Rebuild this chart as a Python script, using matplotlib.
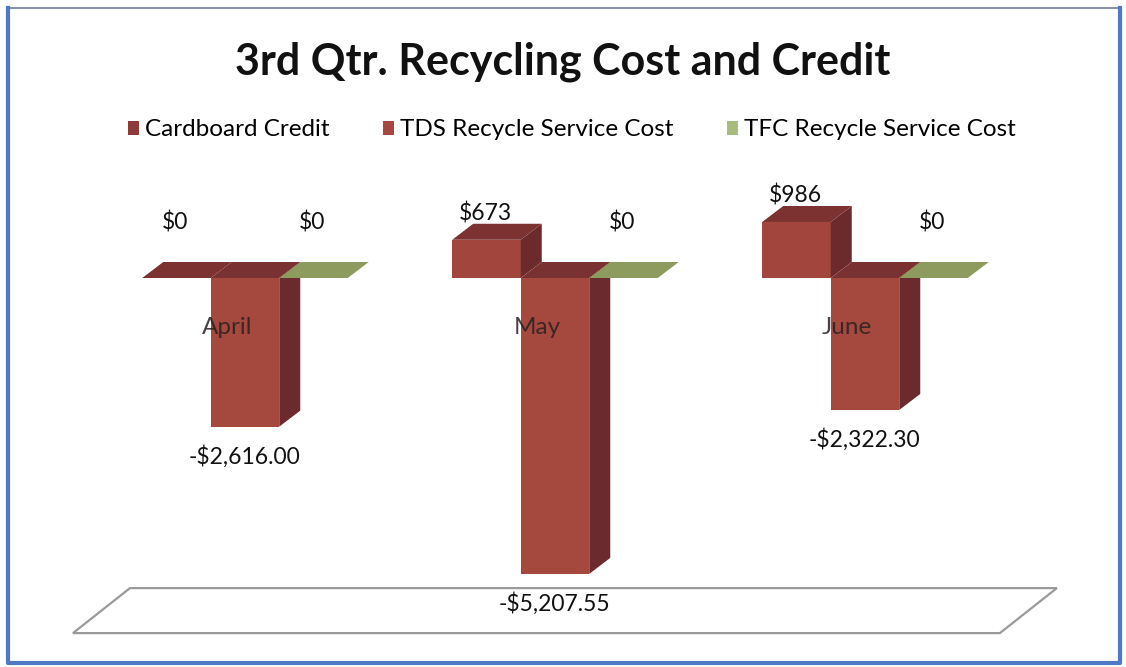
import matplotlib
matplotlib.use('Agg')
import matplotlib.pyplot as plt
from matplotlib.patches import Polygon, Rectangle, Patch
from matplotlib.lines import Line2D

# ---------------- data ----------------
categories = ['April', 'May', 'June']
series_names = ['Cardboard Credit', 'TDS Recycle Service Cost', 'TFC Recycle Service Cost']
cardboard_credit = [0, 673, 986]
tds_cost = [-2616.00, -5207.55, -2322.30]
tfc_cost = [0, 0, 0]
title = '3rd Qtr. Recycling Cost and Credit'

series_values = [cardboard_credit, tds_cost, tfc_cost]

# ---------------- styles ----------------
FONT = ['Lato', 'DejaVu Sans']
plt.rcParams['font.family'] = FONT
front_colors = ['#A2463D', '#A5493F', '#A3AE74']
top_colors = ['#7B3231', '#7A3131', '#8E9B5E']
side_colors = ['#6C2A2D', '#6B2A2D', '#7D8A50']
legend_colors = ['#8D3A3B', '#A8453D', '#A9BB7E']

W, H, DPI = 1126, 667, 100
fig = plt.figure(figsize=(W / DPI, H / DPI), dpi=DPI)
ax = fig.add_axes([0, 0, 1, 1])
ax.axis('off')

# axis scale: group pitch and value per pixel
pitch_px = 310.0
val_per_px = 17.6
x0_px = 245.0        # first group centre (pixels from left)
zero_px = 278.0      # zero line (pixels from top)
ax.set_xlim(-x0_px / pitch_px, (W - x0_px) / pitch_px)
ax.set_ylim(-(H - zero_px) * val_per_px, zero_px * val_per_px)

bar_w = 0.221
ddx = 21 / pitch_px
ddy = 16 * val_per_px

# ---------------- floor ----------------
floor_val = -6250
fdx, fdy = 57 / pitch_px, 45 * val_per_px
fl, fr = -0.555, len(categories) - 1 + 0.435
ax.add_patch(Polygon([(fl, floor_val), (fr, floor_val), (fr + fdx, floor_val + fdy),
                      (fl + fdx, floor_val + fdy)], closed=True, facecolor='white',
                     edgecolor='#9a9a9a', lw=1.6, zorder=1))


def fmt(v):
    if v < 0:
        return f"-${abs(v):,.2f}"
    return f"${v:,.0f}"


# ---------------- bars ----------------
for i, cat in enumerate(categories):
    for j, vals in enumerate(series_values):
        v = vals[i]
        xa = i + (j - 1.5) * bar_w
        xb = xa + bar_w
        lo, hi = min(0, v), max(0, v)
        z = 2 + i * 10 + j
        if v != 0:
            ax.add_patch(Rectangle((xa, lo), bar_w, hi - lo, facecolor=front_colors[j],
                                   edgecolor='none', zorder=z))
            ax.add_patch(Polygon([(xb, lo), (xb + ddx, lo + ddy), (xb + ddx, hi + ddy), (xb, hi)],
                                 closed=True, facecolor=side_colors[j], edgecolor='none', zorder=z))
        ax.add_patch(Polygon([(xa, hi), (xb, hi), (xb + ddx, hi + ddy), (xa + ddx, hi + ddy)],
                             closed=True, facecolor=top_colors[j], edgecolor='none', zorder=z))
        # value labels
        xc = (xa + xb) / 2
        if v < 0:
            off = 30
        elif v > 0:
            off = -26
        else:
            off = -56
        ax.annotate(fmt(v), xy=(xc, v), xytext=(-1, -off), textcoords='offset pixels',
                    ha='center', va='center', fontsize=16.5, color='#111111', zorder=100)
    # category label
    ax.annotate(cat, xy=(i, 0), xytext=(-18, -49), textcoords='offset pixels',
                ha='center', va='center', fontsize=17.5, color='#2a2020', alpha=0.85, zorder=99)

# ---------------- title & legend ----------------
fig.text(0.5, 1 - 62 / H, title, ha='center', va='center', fontsize=31,
         fontweight='bold', color='#111111')
handles = [Patch(facecolor=c, edgecolor='none') for c in legend_colors]
fig.legend(handles, series_names, loc='center', bbox_to_anchor=(0.508, 1 - 130 / H),
           ncol=3, frameon=False, fontsize=17.5, handlelength=0.45, handleheight=0.55,
           handletextpad=0.25, columnspacing=2.2)

# ---------------- border ----------------
bl, br, bt, bb = 8 / W, 1120 / W, 1 - 8 / H, 1 - 663 / H
fig.add_artist(Line2D([bl, br], [bt, bt], transform=fig.transFigure, color='#8893a8', lw=1.5))
fig.add_artist(Line2D([bl, bl, br, br], [bt, bb, bb, bt], transform=fig.transFigure,
                      color='#5078C6', lw=3))

fig.savefig('out.png', dpi=DPI, facecolor='white')
